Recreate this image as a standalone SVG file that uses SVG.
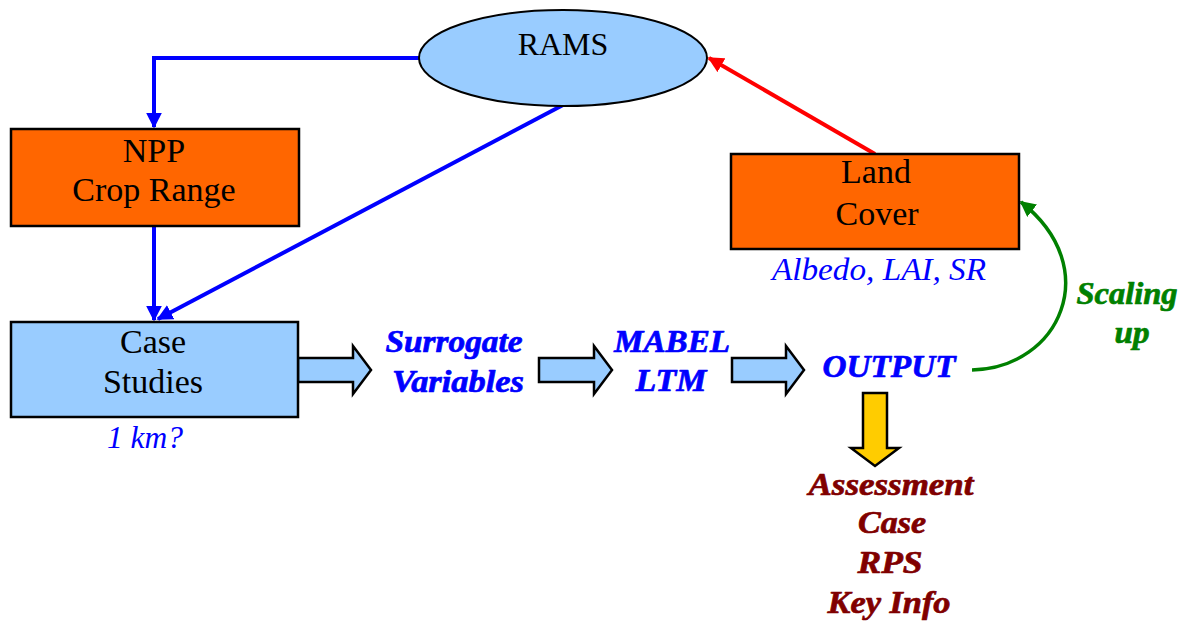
<svg xmlns="http://www.w3.org/2000/svg" width="1185" height="622" viewBox="0 0 1185 622">
  <defs>
    <marker id="headBlue" viewBox="0 0 10 10" refX="9" refY="5" markerWidth="4" markerHeight="4" orient="auto" markerUnits="strokeWidth">
      <path d="M0,0 L10,5 L0,10 z" fill="#0000ff"/>
    </marker>
    <marker id="headRed" viewBox="0 0 10 10" refX="9" refY="5" markerWidth="4" markerHeight="4" orient="auto" markerUnits="strokeWidth">
      <path d="M0,0 L10,5 L0,10 z" fill="#ff0000"/>
    </marker>
    <marker id="headGreen" viewBox="0 0 10 10" refX="9" refY="5" markerWidth="4.5" markerHeight="4.5" orient="auto" markerUnits="strokeWidth">
      <path d="M0,0 L10,5 L0,10 z" fill="#008000"/>
    </marker>
  </defs>
  <style>
    .box { stroke: #000; stroke-width: 2.5; }
    .orange { fill: #ff6600; }
    .sky { fill: #99ccff; }
    .label { font-family: "Liberation Serif", "Times New Roman", serif; font-size: 34px; fill: #000; text-anchor: middle; }
    .note { font-family: "Liberation Serif", "Times New Roman", serif; font-size: 32px; font-style: italic; fill: #0000ff; text-anchor: middle; }
    .heavy { font-family: "Liberation Serif", "Times New Roman", serif; font-size: 32px; font-weight: bold; font-style: italic; text-anchor: middle; stroke-width: 0.7; stroke-linejoin: round; }
    .step { fill: #0000ff; stroke: #0000ff; }
    .result { fill: #800000; stroke: #800000; }
    .scale { fill: #008000; stroke: #008000; }
    .blue { fill: none; stroke: #0000ff; stroke-width: 4; }
    .block { fill: #99ccff; stroke: #000; stroke-width: 2.5; stroke-linejoin: miter; }
  </style>

  <g id="connectors">
    <!-- RAMS to NPP -->
    <path class="blue" d="M420,58 H154 V127" marker-end="url(#headBlue)"/>
    <!-- NPP to Case Studies -->
    <path class="blue" d="M154,226 V320" marker-end="url(#headBlue)"/>
    <!-- RAMS to Case Studies -->
    <path class="blue" d="M563,105 L158,319" marker-end="url(#headBlue)"/>
    <!-- Land Cover feeds RAMS -->
    <path d="M875,154 L709,58" fill="none" stroke="#ff0000" stroke-width="4" marker-end="url(#headRed)"/>
    <!-- Scaling up loop -->
    <path d="M972,370 C1060,368 1105,268 1021,202" fill="none" stroke="#008000" stroke-width="3.5" marker-end="url(#headGreen)"/>
    <!-- block arrows along the chain -->
    <path class="block" d="M298,358 H353 V346 L371,370 L353,394 V382 H298 Z"/>
    <path class="block" d="M539,358 H594 V346 L612,370 L594,394 V382 H539 Z"/>
    <path class="block" d="M732,358 H786 V346 L804,370 L786,394 V382 H732 Z"/>
    <path d="M863,393 H887 V448 H899 L875,466 L851,448 H863 Z" fill="#ffcc00" stroke="#000" stroke-width="2.5"/>
  </g>

  <g id="rams">
    <ellipse cx="563" cy="58" rx="144" ry="48" class="sky" stroke="#000" stroke-width="2"/>
    <text class="label" x="563" y="55" style="font-size:32px">RAMS</text>
  </g>

  <g id="npp">
    <rect class="box orange" x="11" y="129" width="288" height="97"/>
    <text class="label" x="154" y="162">NPP</text>
    <text class="label" x="154" y="201">Crop Range</text>
  </g>

  <g id="land-cover">
    <rect class="box orange" x="731" y="154" width="288" height="95"/>
    <text class="label" x="876" y="183">Land</text>
    <text class="label" x="877" y="225">Cover</text>
    <text class="note" x="879" y="280" textLength="214" lengthAdjust="spacingAndGlyphs">Albedo, LAI, SR</text>
  </g>

  <g id="case-studies">
    <rect class="box sky" x="11" y="322" width="287" height="95"/>
    <text class="label" x="153" y="353">Case</text>
    <text class="label" x="153" y="393">Studies</text>
    <text class="note" x="145" y="448" textLength="76" lengthAdjust="spacingAndGlyphs">1 km?</text>
  </g>

  <g id="surrogate">
    <text class="heavy step" x="454" y="352" textLength="137" lengthAdjust="spacingAndGlyphs">Surrogate</text>
    <text class="heavy step" x="458" y="392" textLength="132" lengthAdjust="spacingAndGlyphs">Variables</text>
  </g>

  <g id="mabel">
    <text class="heavy step" x="672" y="352" textLength="116" lengthAdjust="spacingAndGlyphs">MABEL</text>
    <text class="heavy step" x="671" y="391" textLength="71" lengthAdjust="spacingAndGlyphs">LTM</text>
  </g>

  <g id="output">
    <text class="heavy step" x="889" y="377" textLength="133" lengthAdjust="spacingAndGlyphs">OUTPUT</text>
  </g>

  <g id="results">
    <text class="heavy result" x="891" y="495" textLength="165" lengthAdjust="spacingAndGlyphs">Assessment</text>
    <text class="heavy result" x="892" y="533" textLength="68" lengthAdjust="spacingAndGlyphs">Case</text>
    <text class="heavy result" x="890" y="573" textLength="65" lengthAdjust="spacingAndGlyphs">RPS</text>
    <text class="heavy result" x="889" y="613" textLength="123" lengthAdjust="spacingAndGlyphs">Key Info</text>
  </g>

  <g id="scaling">
    <text class="heavy scale" x="1127" y="304" textLength="101" lengthAdjust="spacingAndGlyphs">Scaling</text>
    <text class="heavy scale" x="1132" y="343" textLength="35" lengthAdjust="spacingAndGlyphs">up</text>
  </g>
</svg>
